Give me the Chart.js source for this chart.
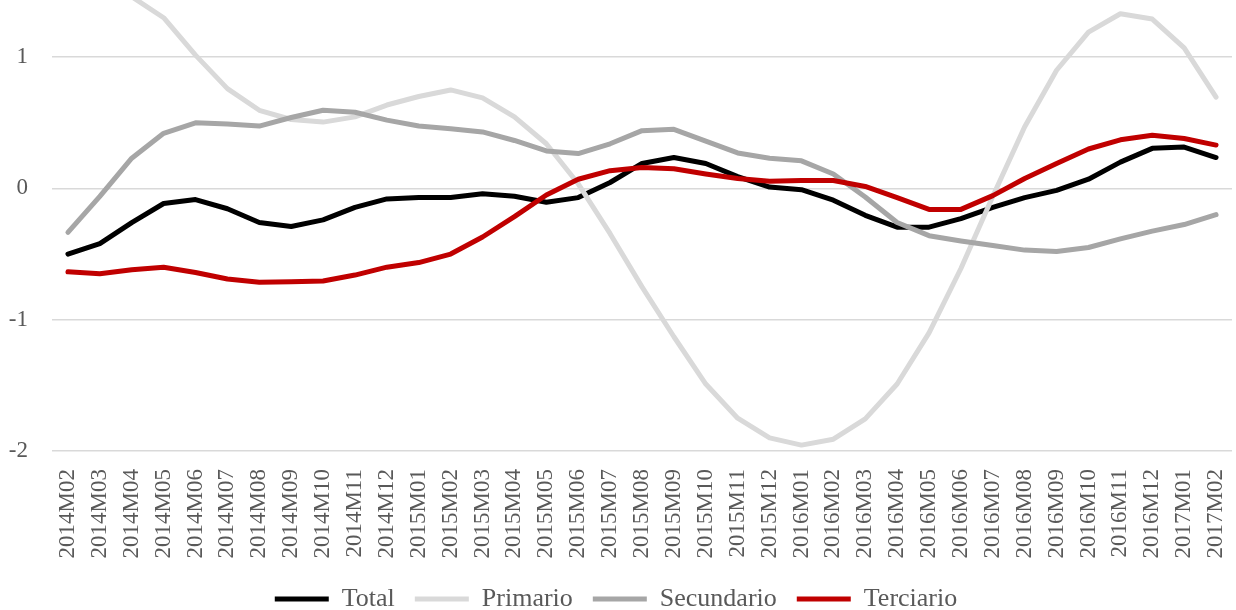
<!DOCTYPE html>
<html>
<head>
<meta charset="utf-8">
<script src="https://cdn.jsdelivr.net/npm/chart.js@4.4.1/dist/chart.umd.min.js"></script>
<style>
    html, body { margin: 0; padding: 0; background: #ffffff; }
    #wrap { width: 1236px; height: 610px; }
</style>
</head>
<body>
<div id="wrap"><canvas id="grafico"></canvas></div>
<script>
// Categorías (meses)
const meses = [
    "2014M02", "2014M03", "2014M04", "2014M05", "2014M06", "2014M07", "2014M08",
    "2014M09", "2014M10", "2014M11", "2014M12", "2015M01", "2015M02", "2015M03",
    "2015M04", "2015M05", "2015M06", "2015M07", "2015M08", "2015M09", "2015M10",
    "2015M11", "2015M12", "2016M01", "2016M02", "2016M03", "2016M04", "2016M05",
    "2016M06", "2016M07", "2016M08", "2016M09", "2016M10", "2016M11", "2016M12",
    "2017M01", "2017M02"
];

// Series
const total = [
    -0.50, -0.42, -0.26, -0.115, -0.085, -0.155, -0.26, -0.29, -0.24, -0.145,
    -0.08, -0.07, -0.07, -0.04, -0.06, -0.105, -0.07, 0.045, 0.19, 0.235,
    0.19, 0.09, 0.01, -0.01, -0.09, -0.205, -0.295, -0.295, -0.23, -0.145,
    -0.07, -0.015, 0.07, 0.20, 0.305, 0.315, 0.235
];
const primario = [
    1.62, 1.55, 1.46, 1.30, 1.015, 0.76, 0.595, 0.525, 0.505, 0.545,
    0.635, 0.70, 0.75, 0.69, 0.545, 0.34, 0.035, -0.345, -0.75, -1.13,
    -1.49, -1.75, -1.90, -1.955, -1.91, -1.755, -1.49, -1.10, -0.61, -0.06,
    0.47, 0.90, 1.19, 1.33, 1.29, 1.07, 0.695
];
const secundario = [
    -0.335, -0.06, 0.23, 0.42, 0.50, 0.49, 0.475, 0.54, 0.595, 0.58,
    0.52, 0.475, 0.455, 0.43, 0.365, 0.285, 0.265, 0.34, 0.44, 0.45,
    0.36, 0.27, 0.23, 0.21, 0.11, -0.065, -0.26, -0.36, -0.40, -0.435,
    -0.47, -0.48, -0.45, -0.385, -0.325, -0.275, -0.20
];
const terciario = [
    -0.635, -0.65, -0.62, -0.60, -0.64, -0.69, -0.715, -0.71, -0.705, -0.66,
    -0.60, -0.565, -0.50, -0.37, -0.215, -0.05, 0.07, 0.135, 0.16, 0.15,
    0.11, 0.075, 0.055, 0.06, 0.06, 0.015, -0.07, -0.16, -0.16, -0.055,
    0.075, 0.19, 0.30, 0.37, 0.405, 0.38, 0.33
];

const colorTexto = "#595959";
const fuente = "'Liberation Serif', 'Times New Roman', serif";

function serie(nombre, datos, color, orden) {
    return {
        label: nombre,
        data: datos,
        borderColor: color,
        backgroundColor: color,
        borderWidth: 5,
        pointRadius: 0,
        pointHoverRadius: 0,
        tension: 0,
        borderCapStyle: "round",
        borderJoinStyle: "round",
        order: orden
    };
}

new Chart(document.getElementById("grafico"), {
    type: "line",
    data: {
        labels: meses,
        datasets: [
            serie("Total", total, "#000000", 4),
            serie("Primario", primario, "#d9d9d9", 3),
            serie("Secundario", secundario, "#a6a6a6", 2),
            serie("Terciario", terciario, "#c00000", 1)
        ]
    },
    options: {
        responsive: true,
        maintainAspectRatio: false,
        animation: false,
        // el borde inferior negativo baja la leyenda hasta el pie
        layout: { padding: { top: 0, right: 4, left: 0, bottom: -12 } },
        plugins: {
            tooltip: { enabled: false },
            legend: {
                display: true,
                position: "bottom",
                labels: {
                    usePointStyle: true,
                    pointStyle: "line",
                    pointStyleWidth: 54,
                    padding: 20,
                    color: colorTexto,
                    font: { family: fuente, size: 26 },
                    sort: (a, b) => a.datasetIndex - b.datasetIndex
                }
            }
        },
        scales: {
            x: {
                offset: true,
                grid: { display: false, drawTicks: false },
                border: { display: false },
                ticks: {
                    autoSkip: false,
                    minRotation: 90,
                    maxRotation: 90,
                    padding: 18,
                    color: colorTexto,
                    font: { family: fuente, size: 23 }
                },
                afterFit: (escala) => {
                    escala.height = 115;
                    escala.paddingLeft = 0;
                    escala.paddingRight = 0;
                }
            },
            y: {
                min: -2,
                max: 1.435,
                grid: { color: "#d9d9d9", lineWidth: 1.5, drawTicks: false },
                border: { display: false },
                ticks: {
                    stepSize: 1,
                    includeBounds: false,
                    padding: 24,
                    color: colorTexto,
                    font: { family: fuente, size: 23 }
                },
                afterFit: (escala) => {
                    escala.width = 52;
                    escala.paddingTop = 0;
                    escala.paddingBottom = 0;
                }
            }
        }
    }
});
</script>
</body>
</html>
